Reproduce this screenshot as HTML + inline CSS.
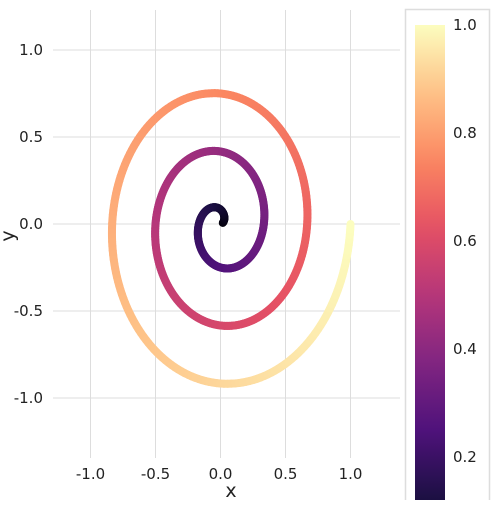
<!DOCTYPE html>
<html><head><meta charset="utf-8"><style>
body{margin:0;background:#fff;}
svg text{font-family:"DejaVu Sans","Liberation Sans",sans-serif;font-size:15px;fill:#222;}
</style></head><body>
<svg id="c" width="500" height="500" viewBox="0 0 500 500" xmlns="http://www.w3.org/2000/svg">
<defs>
<linearGradient id="mg" x1="0" y1="1" x2="0" y2="0"></linearGradient>
</defs>
<g id="grid"></g><g id="marks"></g><g id="cbar"></g>
<text x="231" y="497" text-anchor="middle" style="font-size:19px">x</text>
<text transform="translate(14,236) rotate(-90)" text-anchor="middle" style="font-size:19px">y</text>
</svg>
<script>
const xTicks=[-1.0,-0.5,0.0,0.5,1.0];
const yTicks=[1.0,0.5,0.0,-0.5,-1.0];
const cbTicks=[0.2,0.4,0.6,0.8,1.0];
const turns=[3];
const tStart=[0.35];
const rMax=[1.0];
const cMin=[0.117], cMax=[1.0];
const magma=["#000004","#1c1044","#4f127b","#812581","#b5367a","#e55064","#fb8761","#fec287","#fcfdbf"];
const X=v=>220.5+v*130, Y=v=>224-v*174;
const CY=v=>25+(1-v)*540;
const ns="http://www.w3.org/2000/svg";
function mk(tag,attrs,parent){const e=document.createElementNS(ns,tag);for(const k in attrs)e.setAttribute(k,attrs[k]);parent.appendChild(e);return e;}
function hex(h){return [1,3,5].map(i=>parseInt(h.slice(i,i+2),16));}
function cmap(v){v=Math.max(0,Math.min(1,v));const p=v*(magma.length-1),i=Math.min(Math.floor(p),magma.length-2),f=p-i;const a=hex(magma[i]),b=hex(magma[i+1]);return `rgb(${a.map((c,k)=>Math.round(c+(b[k]-c)*f)).join(',')})`;}
const grid=document.getElementById('grid');
xTicks.forEach(t=>{const l=mk('line',{x1:X(t),x2:X(t),y1:10,y2:458,stroke:'#ddd','stroke-width':1},grid);
const tx=mk('text',{x:X(t),y:479,'text-anchor':'middle'},grid);tx.textContent=t.toFixed(1);});
yTicks.forEach(t=>{const l=mk('line',{x1:53,x2:400,y1:Y(t),y2:Y(t),stroke:'#ddd','stroke-width':1},grid);
const tx=mk('text',{x:43,y:Y(t)+5,'text-anchor':'end'},grid);tx.textContent=t.toFixed(1);});
const marks=document.getElementById('marks');
const T=turns[0]*2*Math.PI,N=600;
for(let i=0;i<N;i++){const t0=tStart[0]+(T-tStart[0])*i/N,t1=tStart[0]+(T-tStart[0])*(i+1)/N;
const r0=rMax[0]*t0/T,r1=rMax[0]*t1/T;
const s=mk('line',{x1:X(r0*Math.cos(t0)),y1:Y(r0*Math.sin(t0)),x2:X(r1*Math.cos(t1)),y2:Y(r1*Math.sin(t1)),stroke:cmap((r0+r1)/2),'stroke-width':8,'stroke-linecap':'round'},marks);
}
const cb=document.getElementById('cbar');
const box=mk('rect',{x:405.5,y:9.5,width:84,height:500,fill:'#fff',stroke:'#ddd','stroke-width':1.5},cb);

const g=document.getElementById('mg');
for(let i=0;i<=20;i++){const v=cMin[0]+(cMax[0]-cMin[0])*i/20;mk('stop',{offset:i/20,'stop-color':cmap(v)},g);}
const bar=mk('rect',{x:415,y:CY(cMax[0]),width:30,height:CY(cMin[0])-CY(cMax[0]),fill:'url(#mg)'},cb);

cbTicks.forEach(t=>{const tx=mk('text',{x:453,y:CY(t)+5},cb);tx.textContent=t.toFixed(1);});
</script>
</body></html>
